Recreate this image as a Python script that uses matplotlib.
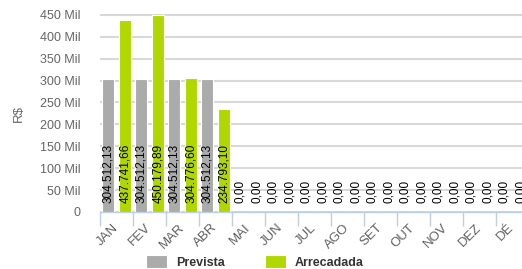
import matplotlib
matplotlib.use("Agg")
import matplotlib.pyplot as plt
import matplotlib.transforms as mtransforms
import numpy as np

# Dados
meses = ["JAN", "FEV", "MAR", "ABR", "MAI", "JUN", "JUL", "AGO", "SET", "OUT", "NOV", "DEZ", "DÉ"]
prevista = [304512.13, 304512.13, 304512.13, 304512.13, 0, 0, 0, 0, 0, 0, 0, 0, 0]
arrecadada = [437741.66, 450179.89, 304776.60, 234793.10, 0, 0, 0, 0, 0, 0, 0, 0, 0]
yticks = [0, 50000, 100000, 150000, 200000, 250000, 300000, 350000, 400000, 450000]
ytick_labels = ["0", "50 Mil", "100 Mil", "150 Mil", "200 Mil", "250 Mil",
                "300 Mil", "350 Mil", "400 Mil", "450 Mil"]

cor_prev = "#ABABAB"
cor_arr = "#B0D800"
cor_eixo = "#C0D0E0"

plt.rcParams['font.family'] = ['Liberation Sans', 'DejaVu Sans']

W, H = 522, 269
fig = plt.figure(figsize=(W / 100, H / 100), dpi=100)
# eixo vai além da borda direita (recortado como no original)
ax = fig.add_axes([100 / W, (H - 212) / H, 429 / W, 198 / H])

x = np.arange(len(meses))
larg = 0.35
desl = 0.25


def fmt(v):
    s = f"{v:,.2f}"
    return s.replace(",", "X").replace(".", ",").replace("X", ".")


for vals, cor, d, nome in [(prevista, cor_prev, -desl, "Prevista"),
                           (arrecadada, cor_arr, desl, "Arrecadada")]:
    bordas = ["white" if v > 0 else cor for v in vals]
    ax.bar(x + d, vals, width=larg, color=cor, edgecolor=bordas,
           linewidth=0.8, label=nome, zorder=3)
    for xi, v in zip(x + d, vals):
        ax.text(xi, 20000, fmt(v), rotation=90, ha="center", va="bottom",
                fontsize=8.5, color="black", zorder=4)

ax.set_xlim(-0.5, len(meses) - 0.5)
ax.set_ylim(0, 452000)
ax.set_yticks(yticks)
ax.set_yticklabels(ytick_labels)
ax.grid(axis="y", color="#D8D8D8", linewidth=1.5, zorder=0)
ax.set_axisbelow(True)

for s in ["top", "right", "left"]:
    ax.spines[s].set_visible(False)
ax.spines["bottom"].set_color(cor_eixo)
ax.spines["bottom"].set_linewidth(1)

ax.tick_params(axis="y", length=0, pad=14, labelsize=9, labelcolor="#666666")
ax.set_xticks(x)
ax.set_xticklabels(meses, rotation=45, ha="right", va="top",
                   fontsize=9.5, color="#606060")
ax.tick_params(axis="x", length=0, pad=7)
ax.set_xticks(np.arange(-0.5, len(meses), 1), minor=True)
ax.tick_params(axis="x", which="minor", length=10, color=cor_eixo, width=1)
desloc = mtransforms.ScaledTranslation(4 / 100, 0, fig.dpi_scale_trans)
for lbl in ax.get_xticklabels():
    lbl.set_transform(lbl.get_transform() + desloc)

ax.set_ylabel("R$", fontsize=9.5, color="#666666")
ax.yaxis.set_label_coords(-0.175, 0.5)

fig.legend(loc="center", bbox_to_anchor=(255 / W, 1 - 262 / H), ncol=2,
           frameon=False, handlelength=1.7, handleheight=1.2,
           handletextpad=0.7, columnspacing=3.2,
           prop={"weight": "bold", "size": 9}, labelcolor="#333333")

fig.savefig("out.png", dpi=100)
